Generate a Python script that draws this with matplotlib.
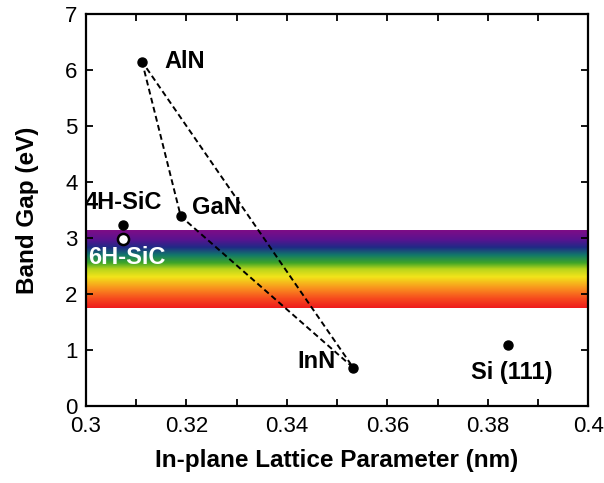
import numpy as np
import matplotlib
matplotlib.use('Agg')
import matplotlib.pyplot as plt
from matplotlib.colors import LinearSegmentedColormap
from matplotlib.ticker import MultipleLocator

plt.rcParams['font.family'] = ['Liberation Sans', 'DejaVu Sans']

# materials: in-plane lattice parameter (nm), band gap (eV)
names = ['AlN', 'GaN', 'InN', 'Si (111)', '4H-SiC', '6H-SiC']
lattice = [0.3112, 0.3189, 0.3532, 0.3841, 0.3074, 0.3074]
gap = [6.15, 3.39, 0.69, 1.10, 3.23, 2.98]

# nitride alloy triangle (AlN -> GaN -> InN -> AlN)
tri_x = [0.3112, 0.3189, 0.3532, 0.3112]
tri_y = [6.15, 3.39, 0.69, 6.15]

# visible spectrum band
vis_lo, vis_hi = 1.75, 3.14

# colour stops bottom (red) -> top (violet)
spec_colors = [(0.00, '#ee1c1c'), (0.12, '#f64a1e'), (0.25, '#f9901e'),
               (0.40, '#f2e41a'), (0.50, '#b8d41c'), (0.58, '#3fa528'),
               (0.68, '#12786a'), (0.78, '#202a86'), (0.88, '#5a1390'),
               (1.00, '#7e0d86')]

fig, ax = plt.subplots(figsize=(6.04, 4.83), dpi=100)
fig.subplots_adjust(left=0.142, right=0.974, bottom=0.159, top=0.971)

cmap = LinearSegmentedColormap.from_list('vis', spec_colors)
grad = np.linspace(0, 1, 256).reshape(-1, 1)
ax.imshow(grad, cmap=cmap, origin='lower', aspect='auto',
          extent=[0.3, 0.4, vis_lo, vis_hi], zorder=1)

ax.plot(tri_x, tri_y, ls=(0, (3, 1.8)), color='black', lw=1.4, zorder=2)

for i, n in enumerate(names):
    if n == '6H-SiC':
        ax.plot(lattice[i], gap[i], 'o', ms=8, mfc='white', mec='black',
                mew=1.8, zorder=3)
    else:
        ax.plot(lattice[i], gap[i], 'o', ms=6.5, color='black', zorder=3)

lab = dict(fontsize=17, fontweight='bold', zorder=4)
ax.text(0.3157, 6.15, 'AlN', ha='left', va='center', **lab)
ax.text(0.3211, 3.54, 'GaN', ha='left', va='center', **lab)
ax.text(0.3498, 0.79, 'InN', ha='right', va='center', **lab)
ax.text(0.3847, 0.61, 'Si (111)', ha='center', va='center', **lab)
ax.text(0.2998, 3.63, '4H-SiC', ha='left', va='center', **lab)
ax.text(0.3004, 2.66, '6H-SiC', ha='left', va='center', color='white', **lab)

ax.set_xlim(0.3, 0.4)
ax.set_ylim(0, 7)
ax.xaxis.set_major_locator(MultipleLocator(0.02))
ax.xaxis.set_minor_locator(MultipleLocator(0.01))
ax.yaxis.set_major_locator(MultipleLocator(1))
ax.xaxis.set_major_formatter(plt.FuncFormatter(lambda v, p: ('%g' % round(v, 2))))
ax.tick_params(which='both', direction='in', top=True, right=True,
               length=5, width=1.3, labelsize=16)
ax.tick_params(axis='x', pad=7)
ax.tick_params(axis='y', pad=6)
for s in ax.spines.values():
    s.set_linewidth(1.6)

ax.set_xlabel('In-plane Lattice Parameter (nm)', fontsize=17.5, fontweight='bold', labelpad=9)
ax.set_ylabel('Band Gap (eV)', fontsize=17.5, fontweight='bold', labelpad=19)

fig.savefig('out.png', dpi=100)
